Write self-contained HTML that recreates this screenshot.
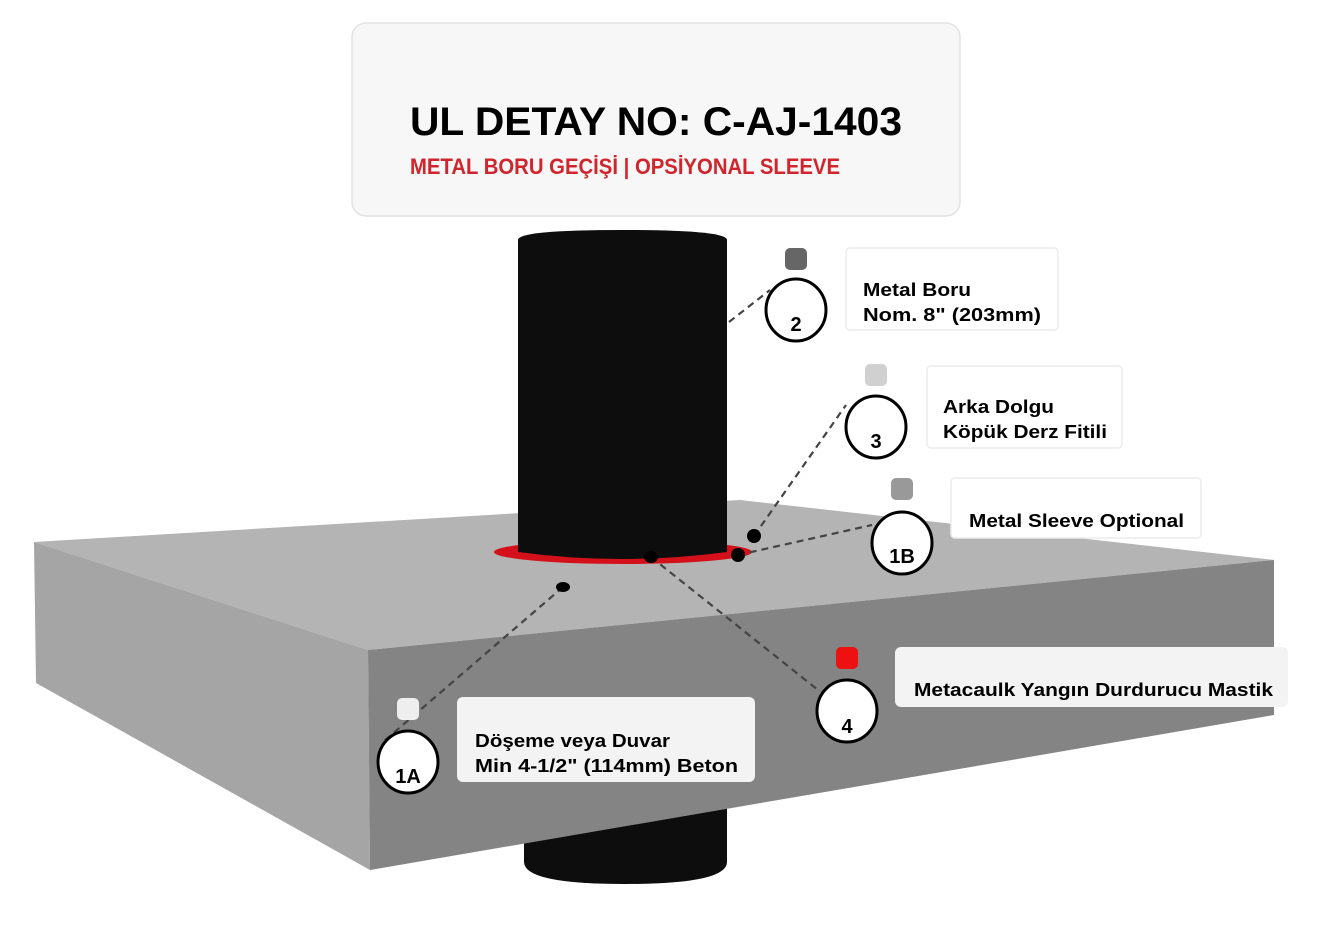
<!DOCTYPE html>
<html><head><meta charset="utf-8"><style>
html,body{margin:0;padding:0;background:#fff;}
svg{display:block}
text{font-family:"Liberation Sans",sans-serif;font-weight:bold}
</style></head><body>
<svg width="1319" height="926" viewBox="0 0 1319 926" xmlns="http://www.w3.org/2000/svg">
<rect width="1319" height="926" fill="#fff"/>
<!-- title box -->
<rect x="352" y="23" width="608" height="193" rx="14" fill="#f7f7f7" stroke="#e2e2e2" stroke-width="1.5"/>
<text x="410" y="135" font-size="40" fill="#000" textLength="492" lengthAdjust="spacingAndGlyphs">UL DETAY NO: C-AJ-1403</text>
<text x="410" y="174" font-size="22" fill="#d0252c" textLength="430" lengthAdjust="spacingAndGlyphs">METAL BORU GEÇİŞİ | OPSİYONAL SLEEVE</text>

<!-- lower pipe -->
<path d="M524 800 L727 790 L727 862 Q727 884 625 884 Q524 884 524 862 Z" fill="#0d0d0d"/>
<!-- slab -->
<polygon points="34,542 740,500 1274,560 368,650" fill="#b4b4b4"/>
<polygon points="34,542 368,650 370,870 36,683" fill="#a5a5a5"/>
<polygon points="368,650 1274,560 1274,715 370,870" fill="#848484"/>
<!-- red ring -->
<ellipse cx="623" cy="552" rx="129" ry="12" fill="#d4111a"/>
<!-- upper pipe -->
<path d="M518 240 Q518 230 622 230 Q727 230 727 240 L727 552 Q622 566 518 552 Z" fill="#0d0d0d"/>

<!-- dashed leaders -->
<g stroke="#444" stroke-width="2.2" stroke-dasharray="7,5" fill="none">
<line x1="729" y1="322" x2="770" y2="290"/>
<line x1="754" y1="536" x2="846" y2="405"/>
<line x1="738" y1="555" x2="872" y2="525"/>
<line x1="651" y1="557" x2="818" y2="690"/>
<line x1="563" y1="587" x2="383" y2="742"/>
</g>
<!-- dots -->
<g fill="#000">
<ellipse cx="563" cy="587" rx="7" ry="5"/>
<ellipse cx="651" cy="557" rx="7" ry="6"/>
<ellipse cx="738" cy="555" rx="7" ry="7"/>
<ellipse cx="754" cy="536" rx="7" ry="7"/>
</g>

<!-- squares -->
<rect x="785" y="248" width="22" height="22" rx="5" fill="#666"/>
<rect x="865" y="364" width="22" height="22" rx="5" fill="#d0d0d0"/>
<rect x="891" y="478" width="22" height="22" rx="5" fill="#999"/>
<rect x="836" y="647" width="22" height="22" rx="5" fill="#ee1111"/>
<rect x="397" y="698" width="22" height="22" rx="5" fill="#eeeeee"/>

<!-- circles -->
<g fill="#fff" stroke="#000" stroke-width="3">
<ellipse cx="796" cy="310" rx="30" ry="31"/>
<ellipse cx="876" cy="427" rx="30" ry="31"/>
<ellipse cx="902" cy="543" rx="30" ry="31"/>
<ellipse cx="847" cy="711" rx="30" ry="31"/>
<ellipse cx="408" cy="762" rx="30" ry="31"/>
</g>
<g font-size="20" fill="#000" text-anchor="middle">
<text x="796" y="331">2</text>
<text x="876" y="448">3</text>
<text x="902" y="563">1B</text>
<text x="847" y="733">4</text>
<text x="408" y="783">1A</text>
</g>

<!-- label boxes -->
<g fill="#fff" stroke="#ececec" stroke-width="1.5">
<rect x="846" y="248" width="212" height="82" rx="4"/>
<rect x="927" y="366" width="195" height="82" rx="4"/>
<rect x="951" y="478" width="250" height="60" rx="4"/>
</g>
<rect x="895" y="647" width="393" height="60" rx="6" fill="#f3f3f3"/>
<rect x="457" y="697" width="298" height="85" rx="6" fill="#f3f3f3"/>
<g font-size="18" fill="#000">
<text x="863" y="296" textLength="108" lengthAdjust="spacingAndGlyphs">Metal Boru</text>
<text x="863" y="321" textLength="178" lengthAdjust="spacingAndGlyphs">Nom. 8" (203mm)</text>
<text x="943" y="413" textLength="111" lengthAdjust="spacingAndGlyphs">Arka Dolgu</text>
<text x="943" y="438" textLength="164" lengthAdjust="spacingAndGlyphs">Köpük Derz Fitili</text>
<text x="969" y="527" textLength="215" lengthAdjust="spacingAndGlyphs">Metal Sleeve Optional</text>
<text x="914" y="696" textLength="359" lengthAdjust="spacingAndGlyphs">Metacaulk Yangın Durdurucu Mastik</text>
<text x="475" y="747" textLength="195" lengthAdjust="spacingAndGlyphs">Döşeme veya Duvar</text>
<text x="475" y="772" textLength="263" lengthAdjust="spacingAndGlyphs">Min 4-1/2" (114mm) Beton</text>
</g>
</svg>
</body></html>
